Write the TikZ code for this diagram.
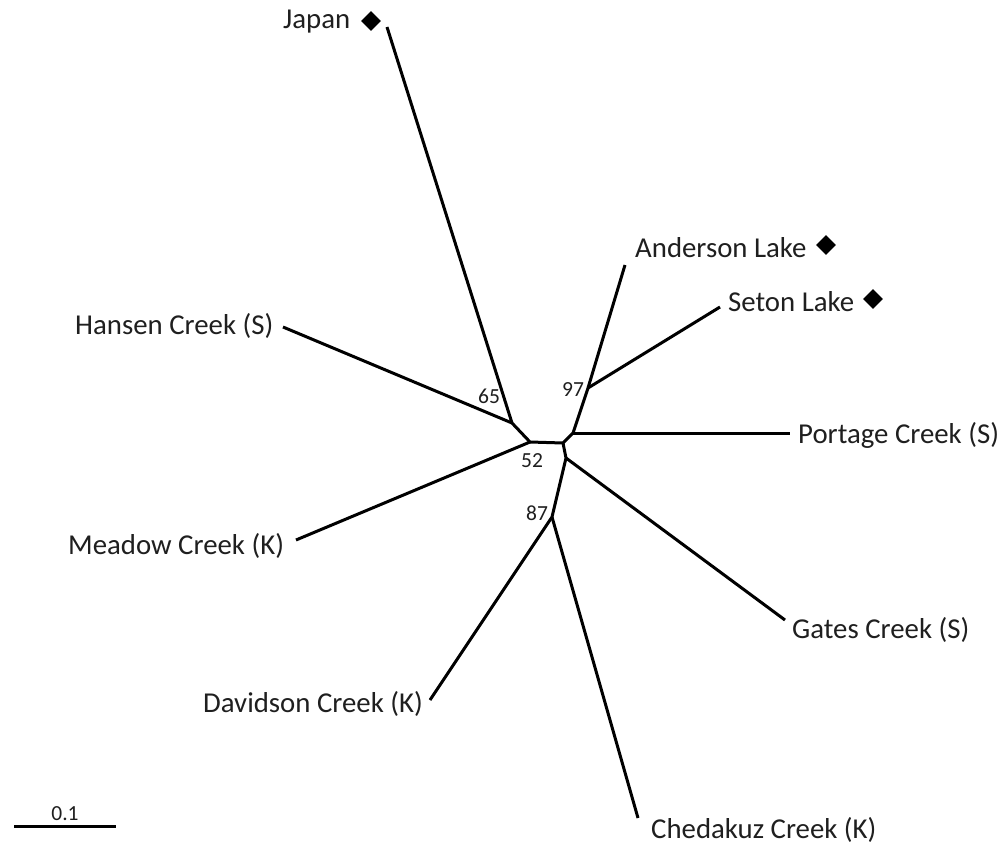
\documentclass[tikz,border=0pt]{standalone}
\usepackage{fontspec}
\setmainfont{Carlito}
\usetikzlibrary{shapes.geometric}
\begin{document}
\begin{tikzpicture}[x=1pt,y=-1pt,
  br/.style={line width=3pt,line join=round},
  lab/.style={font=\fontsize{28.8}{30}\selectfont,text=black!88,inner sep=0pt,anchor=west},
  boot/.style={font=\fontsize{21.5}{23}\selectfont,text=black!88,inner sep=0pt},
  dia/.style={diamond,fill=black,inner sep=0pt,minimum size=20pt}]
\useasboundingbox[fill=white] (0,0) rectangle (999,846);
% internal nodes
\coordinate (A) at (512,423);
\coordinate (B) at (530,442);
\coordinate (C) at (563,443);
\coordinate (D) at (573,433);
\coordinate (E) at (566,458);
\coordinate (F) at (588,388);
\coordinate (G) at (552,517);
% leaf ends
\coordinate (jp) at (387,27);
\coordinate (hc) at (283,327);
\coordinate (mc) at (296,540);
\coordinate (dc) at (430,700);
\coordinate (cc) at (638,818);
\coordinate (gc) at (785,620);
\coordinate (pc) at (790,433);
\coordinate (sl) at (720,307);
\coordinate (al) at (625,265);
% branches
\draw[br] (jp) -- (A) -- (B) -- (C) -- (D) -- (F) -- (al);
\draw[br] (hc) -- (A);
\draw[br] (mc) -- (B);
\draw[br] (C) -- (E) -- (G) -- (dc);
\draw[br] (G) -- (cc);
\draw[br] (E) -- (gc);
\draw[br] (D) -- (pc);
\draw[br] (F) -- (sl);
% labels
\node[lab] (tjp) at (283,22) {Japan};
\node[dia] (djp) at (371,21) {};
\node[lab] (tal) at (635,248) {Anderson Lake};
\node[dia] (dal) at (826,245) {};
\node[lab] (tsl) at (728,302) {Seton Lake};
\node[dia] (dsl) at (873,299) {};
\node[lab] (thc) at (75,326) {Hansen Creek (S)};
\node[lab] (tpc) at (798,435) {Portage Creek (S)};
\node[lab] (tmc) at (68,546) {Meadow Creek (K)};
\node[lab] (tgc) at (792,630) {Gates Creek (S)};
\node[lab] (tdc) at (203,704) {Davidson Creek (K)};
\node[lab] (tcc) at (651,830) {Chedakuz Creek (K)};
% bootstrap values
\node[boot] (b65) at (489,396) {65};
\node[boot] (b97) at (573,390) {97};
\node[boot] (b52) at (532,461) {52};
\node[boot] (b87) at (537,513) {87};
% scale bar
\coordinate (s1) at (14,826);
\coordinate (s2) at (116,826);
\draw[br] (s1) -- (s2);
\node[boot] (sb) at (65,814) {0.1};
\end{tikzpicture}
\end{document}
